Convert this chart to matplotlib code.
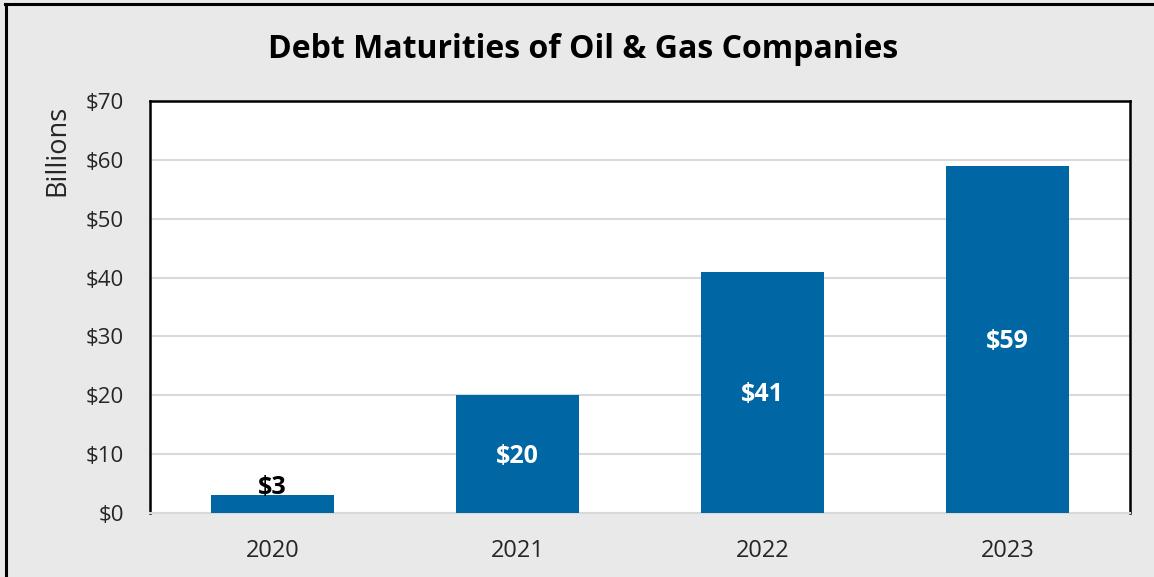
import matplotlib.pyplot as plt
from matplotlib.lines import Line2D
import numpy as np

plt.rcParams['font.family'] = ['Open Sans', 'DejaVu Sans']

years = ['2020', '2021', '2022', '2023']
debt = [3, 20, 41, 59]
yticks = [0, 10, 20, 30, 40, 50, 60, 70]

bar_color = '#0066A4'
bg_color = '#E9E9E9'
grid_color = '#D9D9D9'
text_color = '#262626'

fig = plt.figure(figsize=(11.54, 5.77), dpi=100, facecolor=bg_color)
ax = fig.add_axes([0.130, 0.111, 0.849, 0.714])
ax.set_facecolor('white')

x = np.arange(len(years))
bars = ax.bar(x, debt, width=0.5, color=bar_color, zorder=3)

ax.set_xlim(-0.5, len(years) - 0.5)
ax.set_ylim(0, 70)
ax.set_yticks(yticks)
ax.set_yticklabels([f'${v}' for v in yticks])
ax.set_xticks(x)
ax.set_xticklabels(years)
ax.tick_params(axis='y', length=0, labelsize=16, colors=text_color, pad=19)
ax.tick_params(axis='x', length=0, labelsize=17, colors=text_color, pad=19)

ax.grid(axis='y', color=grid_color, linewidth=1.5, zorder=0)
for side in ['left', 'top', 'right']:
    ax.spines[side].set_color('black')
    ax.spines[side].set_linewidth(1.8)
ax.spines['bottom'].set_color(grid_color)
ax.spines['bottom'].set_linewidth(1.5)

# value labels: small bar gets label on top, others centered in white
for xi, v in zip(x, debt):
    if v < 10:
        ax.text(xi, v - 0.8, f'${v}', ha='center', va='bottom', fontsize=18,
                fontweight='bold', color='black', zorder=4)
    else:
        ax.text(xi, v / 2 - 0.45, f'${v}', ha='center', va='center', fontsize=18,
                fontweight='bold', color='white', zorder=4)

ax.set_ylabel('Billions', fontsize=19.5, color=text_color)
ax.yaxis.set_label_coords(-0.08, 0.88)

fig.text(0.505, 0.915, 'Debt Maturities of Oil & Gas Companies', ha='center',
         va='center', fontsize=23, fontweight='bold', color='black')

# outer frame (top and left edges only)
fig.add_artist(Line2D([0.0045, 1], [0.993, 0.993], transform=fig.transFigure,
                      color='black', linewidth=2.2))
fig.add_artist(Line2D([0.0048, 0.0048], [0, 0.993], transform=fig.transFigure,
                      color='black', linewidth=2.2))

plt.savefig('out.png', dpi=100, facecolor=bg_color)
